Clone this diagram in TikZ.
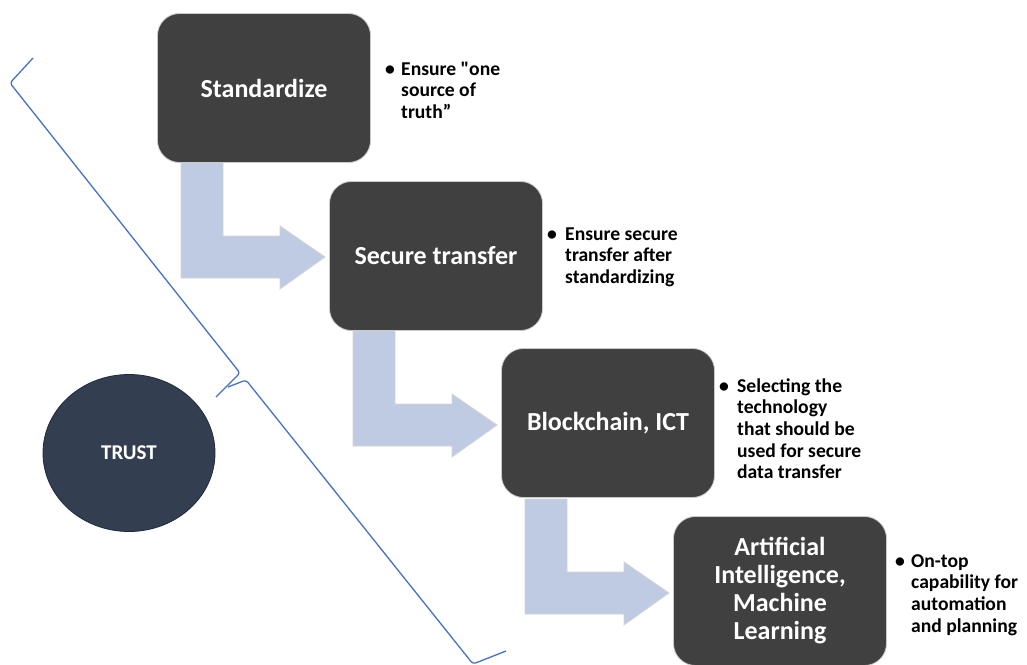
\documentclass[tikz,border=0pt]{standalone}
\usepackage{fontspec}
\setmainfont{Carlito}[Ligatures=TeXOff]
\usetikzlibrary{shapes.geometric}
\definecolor{boxgray}{HTML}{404040}
\definecolor{boxedge}{HTML}{C9C9C9}
\definecolor{arrowfill}{HTML}{BFCAE3}
\definecolor{arrowedge}{HTML}{D4D4D4}
\definecolor{bracecol}{HTML}{4472C4}
\definecolor{trustfill}{HTML}{333F50}
\definecolor{trustedge}{HTML}{1F2A3C}
\newcommand{\notelines}[1]{\begin{tabular}[t]{@{}l@{}}#1\end{tabular}}
\begin{document}
\begin{tikzpicture}[x=1pt,y=-1pt,
  stepbox/.style={draw=boxedge,line width=0.8pt,fill=boxgray,rounded corners=22pt,
    minimum width=213pt,minimum height=149pt,inner sep=0pt,text=white,
    font=\fontsize{26}{28}\selectfont\bfseries,align=center},
  bent/.style={fill=arrowfill,draw=arrowedge,line width=0.8pt},
  bul/.style={anchor=base west,inner sep=0pt,font=\fontsize{19.6}{21.7}\selectfont\bfseries},
  note/.style={anchor=base west,inner sep=0pt,font=\fontsize{19.6}{21.7}\selectfont\bfseries},
  brace/.style={draw=bracecol,line width=1.3pt,rounded corners=3pt}]
\useasboundingbox (0,0) rectangle (1027,664);
% bent arrows
\foreach \k in {0,1,2}{
  \begin{scope}[shift={(172*\k,168*\k)}]
    \path[bent] (181,163) -- (223,163) -- (223,236) -- (280,236) -- (280,226) -- (325,257)
      -- (280,289) -- (280,278) -- (181,278) -- cycle;
  \end{scope}
}
% boxes
\node[stepbox] (b1) at (264,88) {Standardize};
\node[stepbox] (b2) at (436,256) {Secure transfer};
\node[stepbox] (b3) at (608,423) {Blockchain, ICT};
\node[stepbox] (b4) at (780,591) {Artificial\\Intelligence,\\Machine\\Learning};
% notes
\node[bul] (d1) at (385,75) {•};
\node[note] (n1) at (401,75) {\notelines{Ensure "one\\source of\\truth”}};
\node[bul] (d2) at (547,240) {•};
\node[note] (n2) at (565,240) {\notelines{Ensure secure\\transfer after\\standardizing}};
\node[bul] (d3) at (719,392) {•};
\node[note] (n3) at (737,392) {\notelines{Selecting the\\technology\\that should be\\used for secure\\data transfer}};
\node[bul] (d4) at (895,567) {•};
\node[note] (n4) at (911,567) {\notelines{On-top\\capability for\\automation\\and planning}};
% trust
\node[ellipse,draw=trustedge,line width=0.8pt,fill=trustfill,minimum width=172pt,minimum height=157pt,
  text=white,font=\fontsize{21}{24}\selectfont\bfseries] (trust) at (129,453) {TRUST};
% brace
\coordinate (bt) at (33,58);
\coordinate (bm) at (216,397);
\coordinate (bb) at (506,651);
\draw[brace] (bt) -- (10,83) -- (240,373) -- (bm);
\draw[brace] (228,387) -- (246,380) -- (473,664) -- (bb);
\end{tikzpicture}
\end{document}
